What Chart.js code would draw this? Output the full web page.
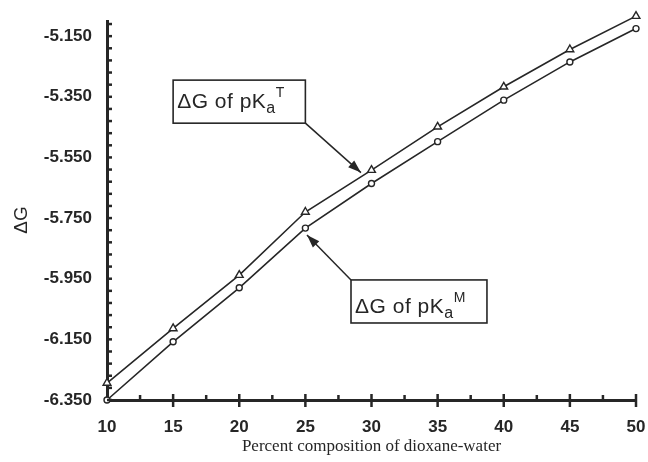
<!DOCTYPE html>
<html>
<head>
<meta charset="utf-8">
<script src="https://cdn.jsdelivr.net/npm/chart.js@4.4.0/dist/chart.umd.min.js"></script>
<style>
  html, body { margin: 0; background: #fff; }
  #wrap { width: 648px; height: 462px; }
</style>
</head>
<body>
<div id="wrap"><canvas id="chart"></canvas></div>
<script>
// values
const percent = [10, 15, 20, 25, 30, 35, 40, 45, 50];
const dgT = [-6.294, -6.114, -5.938, -5.730, -5.592, -5.449, -5.317, -5.194, -5.084];
const dgM = [-6.350, -6.158, -5.980, -5.783, -5.636, -5.498, -5.361, -5.235, -5.125];
const xTicks = [10, 15, 20, 25, 30, 35, 40, 45, 50];
const yTicks = [-6.35, -6.15, -5.95, -5.75, -5.55, -5.35, -5.15];

// callout boxes, in data units: [x0, y0, x1, y1], arrow tip [x, y]
const callouts = [
  { sup: "T", box: [15, -5.295, 25, -5.437], tip: [29.2, -5.600], corner: "br", dy: 28 },
  { sup: "M", box: [28.45, -5.954, 38.73, -6.096], tip: [25.12, -5.806], corner: "tl", dy: 33 }
];

const ink = "#262626";

const noPad = s => { s.paddingLeft = 0; s.paddingRight = 0; s.paddingTop = 0; s.paddingBottom = 0; };

const decor = {
  id: "decor",
  afterDraw(chart) {
    const { ctx } = chart;
    const x = chart.scales.x, y = chart.scales.y;
    ctx.save();
    ctx.strokeStyle = ink;
    ctx.fillStyle = ink;
    const seg = (a, b, c, d) => { ctx.beginPath(); ctx.moveTo(a, b); ctx.lineTo(c, d); ctx.stroke(); };

    // y axis ticks (every 0.04)
    ctx.lineWidth = 2.5;
    for (let v = y.min; v <= y.max + 1e-9; v += 0.04) {
      const py = y.getPixelForValue(v);
      seg(x.left, py, x.left + 5, py);
    }
    // x axis ticks
    xTicks.forEach(v => {
      if (v > x.min) {
        const px = x.getPixelForValue(v);
        seg(px, y.bottom - 6, px, y.bottom + 7);
      }
      if (v < x.max) {
        const pm = x.getPixelForValue(v + 2.5);
        seg(pm, y.bottom - 5, pm, y.bottom);
      }
    });

    // y title
    ctx.save();
    ctx.translate(22, 220);
    ctx.rotate(-Math.PI / 2);
    ctx.font = "19px 'Liberation Sans', Arial, sans-serif";
    ctx.textAlign = "center";
    ctx.textBaseline = "middle";
    ctx.fillText("\u0394G", 0, 0);
    ctx.restore();

    // callouts
    callouts.forEach(c => {
      const l = x.getPixelForValue(c.box[0]), t = y.getPixelForValue(c.box[1]);
      const r = x.getPixelForValue(c.box[2]), b = y.getPixelForValue(c.box[3]);
      const tx = x.getPixelForValue(c.tip[0]), ty = y.getPixelForValue(c.tip[1]);
      const sx = c.corner === "br" ? r : l, sy = c.corner === "br" ? b : t;
      ctx.lineWidth = 1.5;
      seg(sx, sy, tx, ty);
      const ang = Math.atan2(ty - sy, tx - sx);
      ctx.beginPath();
      ctx.moveTo(tx, ty);
      ctx.lineTo(tx - 13 * Math.cos(ang) + 4.5 * Math.sin(ang), ty - 13 * Math.sin(ang) - 4.5 * Math.cos(ang));
      ctx.lineTo(tx - 13 * Math.cos(ang) - 4.5 * Math.sin(ang), ty - 13 * Math.sin(ang) + 4.5 * Math.cos(ang));
      ctx.closePath();
      ctx.fill();

      ctx.fillStyle = "#fff";
      ctx.fillRect(l, t, r - l, b - t);
      ctx.fillStyle = ink;
      ctx.lineWidth = 1.6;
      ctx.strokeRect(l, t, r - l, b - t);

      const bx = l + 4, by = t + c.dy;
      ctx.textAlign = "left";
      ctx.textBaseline = "alphabetic";
      ctx.letterSpacing = "0.5px";
      ctx.font = "21px 'Liberation Sans', Arial, sans-serif";
      const main = "\u0394G of pK";
      ctx.fillText(main, bx, by);
      const w = ctx.measureText(main).width;
      ctx.font = "16px 'Liberation Sans', Arial, sans-serif";
      ctx.fillText("a", bx + w, by + 5);
      const wa = ctx.measureText("a").width;
      ctx.font = "14px 'Liberation Sans', Arial, sans-serif";
      ctx.fillText(c.sup, bx + w + wa, by - 11);
      ctx.letterSpacing = "0px";
    });
    ctx.restore();
  }
};

new Chart(document.getElementById("chart"), {
  type: "line",
  data: {
    datasets: [
      {
        label: "\u0394G of pKa T",
        data: percent.map((p, i) => ({ x: p, y: dgT[i] })),
        borderColor: ink,
        borderWidth: 1.6,
        pointStyle: "triangle",
        pointRadius: 4.5,
        pointBackgroundColor: "#fff",
        pointBorderColor: ink,
        pointBorderWidth: 1.4,
        tension: 0,
        clip: false
      },
      {
        label: "\u0394G of pKa M",
        data: percent.map((p, i) => ({ x: p, y: dgM[i] })),
        borderColor: ink,
        borderWidth: 1.6,
        pointStyle: "circle",
        pointRadius: 3,
        pointBackgroundColor: "#fff",
        pointBorderColor: ink,
        pointBorderWidth: 1.4,
        tension: 0,
        clip: false
      }
    ]
  },
  options: {
    responsive: true,
    maintainAspectRatio: false,
    animation: false,
    layout: { padding: { top: 21, right: 12, left: 0, bottom: 0 } },
    plugins: { legend: { display: false }, tooltip: { enabled: false } },
    scales: {
      x: {
        type: "linear",
        min: 10,
        max: 50,
        afterBuildTicks: s => { s.ticks = xTicks.map(v => ({ value: v })); },
        afterFit: s => { s.height = 62; noPad(s); },
        grid: { display: false, drawTicks: false },
        border: { display: true, color: ink, width: 3 },
        ticks: {
          padding: 17,
          color: ink,
          font: { family: "'Liberation Sans', Arial, sans-serif", size: 17, weight: "bold" },
          callback: v => String(v)
        },
        title: {
          display: true,
          text: "Percent composition of dioxane-water",
          color: ink,
          font: { family: "'Liberation Serif', 'Times New Roman', serif", size: 17 },
          padding: { top: 0, bottom: 5 }
        }
      },
      y: {
        type: "linear",
        min: -6.35,
        max: -5.10,
        afterBuildTicks: s => { s.ticks = yTicks.map(v => ({ value: v })); },
        afterFit: s => { s.width = 107; noPad(s); },
        grid: { display: false, drawTicks: false },
        border: { display: true, color: ink, width: 3 },
        ticks: {
          padding: 15,
          color: ink,
          font: { family: "'Liberation Sans', Arial, sans-serif", size: 17, weight: "bold" },
          callback: v => v.toFixed(3)
        }
      }
    }
  },
  plugins: [decor]
});
</script>
</body>
</html>
